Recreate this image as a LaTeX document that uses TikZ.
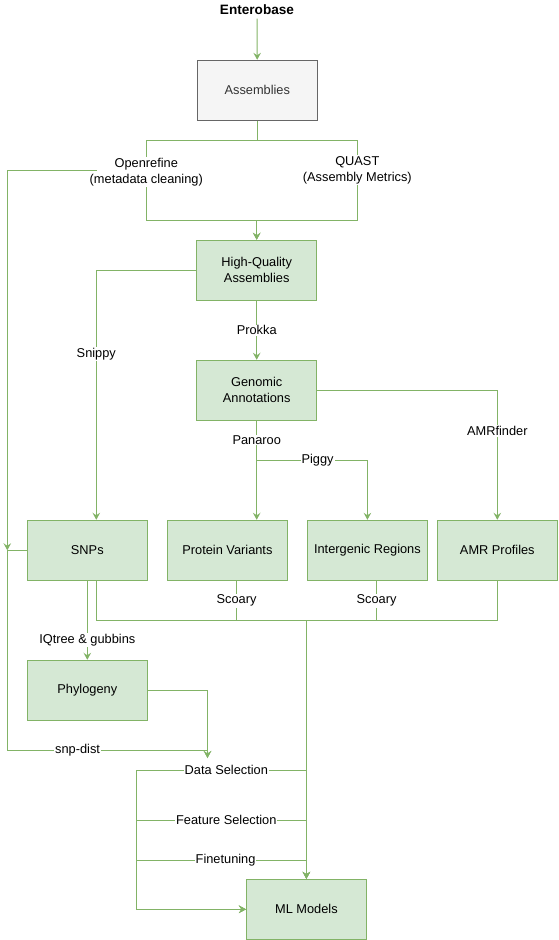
\documentclass[tikz,border=0pt]{standalone}
\usepackage{fontspec}
\setmainfont{Liberation Sans}
\usetikzlibrary{arrows.meta}
\definecolor{grn}{HTML}{82B366}
\definecolor{grnfill}{HTML}{D5E8D4}
\definecolor{gryfill}{HTML}{F5F5F5}
\definecolor{grydraw}{HTML}{666666}
\definecolor{grytext}{HTML}{333333}
\begin{document}
\begin{tikzpicture}[x=1pt,y=-1pt,
    box/.style={draw=grn, fill=grnfill, line width=1pt, minimum width=120pt, minimum height=60pt, inner sep=0pt, align=center, font=\fontsize{12.8}{16}\selectfont},
    lbl/.style={fill=white, inner sep=1pt, align=center, font=\fontsize{12.8}{16}\selectfont},
    arr/.style={draw=grn, line width=1pt, -{Stealth[length=7pt,width=7.5pt,inset=2.5pt]}}]
\useasboundingbox (0,0) rectangle (558,940);
      \node[font=\fontsize{13.6}{16}\selectfont\bfseries] (ent) at (257,10) {Enterobase};
      \node[box, draw=grydraw, fill=gryfill, text=grytext] (asm) at (257.3,90.3) {Assemblies};
      \node[box] (hq) at (256.7,270.3) {High-Quality\\Assemblies};
      \node[box] (gen) at (256.7,390.3) {Genomic\\Annotations};
      \node[box] (snp) at (87.3,550.3) {SNPs};
      \node[box] (prot) at (227.4,550.3) {Protein Variants};
      \node[box] (igr) at (367.4,550.3) {Intergenic Regions};
      \node[box] (amr) at (497.3,550.3) {AMR Profiles};
      \node[box] (phy) at (87.3,690.3) {Phylogeny};
      \node[box] (ml) at (306.4,909.3) {ML Models};
      \coordinate (jl) at (7.3,550.3);
      \coordinate (dsin) at (207.5,758);
      \coordinate (bus) at (306.4,620.3);
      % cleaning and QC
      \draw[arr] (ent) -- (asm);
      \draw[arr] (asm.south) |- (146.3,140.3) -- (146.3,172.3) node[lbl] (ore) {Openrefine\\(metadata cleaning)} |- (hq.north |- 0,220.3) -- (hq.north);
      \draw[arr] (asm.south) |- (357.3,140.3) -- (357.3,170) node[lbl] (qst) {QUAST\\(Assembly Metrics)} |- (hq.north |- 0,220.3) -- (hq.north);
      \draw[arr] ([xshift=9pt,yshift=2pt]ore.west) -| (jl);
      % annotation
      \draw[arr] (hq.west) -| (96.3,354.3) node[lbl] {Snippy} -- ([xshift=9pt]snp.north);
      \draw[arr] (hq) -- (gen) node[lbl,midway] {Prokka};
      \draw[arr] (gen.east) -| (amr.north |- 0,431) node[lbl] {AMRfinder} -- (amr.north);
      \draw[arr] (gen.south) |- (317.6,460.3) node[lbl] {Piggy} -| (igr.north);
      \draw[arr] (gen.south) -- (gen.south |- 0,440) node[lbl] {Panaroo} -- (gen.south |- prot.north);
      % features to models
      \draw[arr] ([xshift=9pt]snp.south) |- (bus) -- (ml.north);
      \draw[arr] (amr.south) |- (bus) -- (ml.north);
      \draw[arr] ([xshift=9.2pt]prot.south) -- ++(0,20) node[lbl] {Scoary} |- (bus) -- (ml.north);
      \draw[arr] ([xshift=9.1pt]igr.south) -- ++(0,20) node[lbl] {Scoary} |- (bus) -- (ml.north);
      \draw[arr] (snp.south) -- (snp.south |- 0,640) node[lbl] {IQtree \& gubbins} -- (phy.north);
      \draw[arr] (phy.east) -| (dsin);
      \draw[arr] (snp.west) -- (jl) -- (jl |- 0,750) -- (77.6,750) node[lbl] {snp-dist} -| (dsin);
      % model loop
      \draw[arr] (ml.north |- 0,770.3) -- (226.3,770.3) node[lbl] {Data Selection} -| (136.3,909.3) -- (ml.west);
      \draw[arr] (ml.north |- 0,820.3) -- (226.3,820.3) node[lbl] {Feature Selection} -| (136.3,909.3) -- (ml.west);
      \draw[arr] (ml.north |- 0,860.3) -- (225.6,860.3) node[lbl] {Finetuning} -| (136.3,909.3) -- (ml.west);
\end{tikzpicture}
\end{document}
